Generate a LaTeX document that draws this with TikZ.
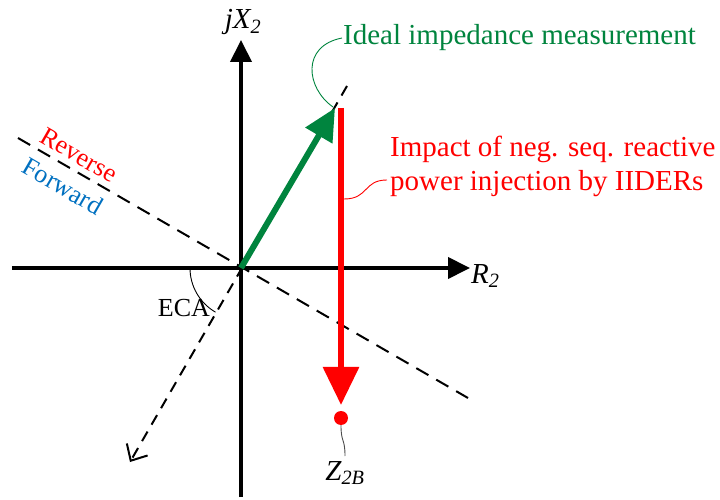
\documentclass[tikz,border=0pt]{standalone}
\usepackage{fontspec}
\setmainfont{Liberation Serif}
\usetikzlibrary{arrows.meta, positioning, calc}

\definecolor{imgreen}{RGB}{0,132,62}
\definecolor{fwblue}{RGB}{0,112,192}

\tikzset{
  axis/.style={line width=4pt, -{Triangle[length=22pt,width=21pt]}},
  dashline/.style={line width=2pt, dash pattern=on 14pt off 9pt},
  leader/.style={line width=0.9pt},
  lbl/.style={font=\fontsize{29}{34}\selectfont, inner sep=1pt},
  smalllbl/.style={font=\fontsize{26}{30}\selectfont, inner sep=1pt}
}

\begin{document}
\begin{tikzpicture}[x=1pt, y=1pt]
        \useasboundingbox (-241,-232) rectangle (479,268);

        \coordinate (O) at (0,0);

        % axes
        \coordinate (Rleft) at (-229,0);
        \coordinate (Rtip) at (229,0);
        \coordinate (Xbot) at (0,-229);
        \coordinate (Xtip) at (0,228);
        \draw[axis] (Rleft) -- (Rtip);
        \draw[axis] (Xbot) -- (Xtip);
        \node[lbl, anchor=west] (R2) at ($(Rtip)+(0,-8)$) {\itshape R\textsubscript{2}};
        \node[lbl] (jX2) at (2,246) {\itshape jX\textsubscript{2}};

        % directional boundary
        \coordinate (Dup) at (-223,130);
        \coordinate (Ddown) at (227,-130);
        \draw[dashline] (Dup) -- (Ddown);
        \node[smalllbl, text=red, rotate=-30] (rev) at (-162,113) {Reverse};
        \node[smalllbl, text=fwblue, rotate=-30] (fwd) at (-178,82) {Forward};

        % characteristic angle line
        \coordinate (Mup) at (106,182);
        \coordinate (Mtip) at (-111,-194);
        \draw[line width=2pt, dash pattern=on 11pt off 8pt, -{Straight Barb[length=13pt,width=24pt]}] (Mup) -- (Mtip);

        % ECA
        \draw[leader] (-51,0) arc (180:240:51);
        \node[smalllbl] (ECA) at (-57,-40) {ECA};

        % ideal measurement
        \coordinate (Zid) at (94,160);
        \draw[imgreen, line width=6pt, -{Triangle[length=32pt,width=30pt]}] (O) -- (Zid);
        \node[lbl, text=imgreen, anchor=west] (ideal) at (101,230) {Ideal impedance measurement};
        \draw[leader, imgreen] (92,161) .. controls (65,180) and (60,222) .. (ideal.west);

        % shift by IIDERs
        \coordinate (Rtop) at (100,160);
        \coordinate (Rend) at (100,-137);
        \draw[red, line width=6pt, -{Triangle[length=38pt,width=35pt]}] (Rtop) -- (Rend);
        \node[circle, fill=red, minimum size=14pt, inner sep=0pt] (Z2Bdot) at (100,-150) {};
        \node[lbl, text=red, anchor=west, align=left] (impact) at (148,102)
          {Impact of neg. seq. reactive\\power injection by IIDERs};
        \draw[leader, red] (103,69) .. controls (128,69) and (122,88) .. (146,88);

        % Z2B
        \node[lbl] (Z2B) at (104,-205) {\itshape Z\textsubscript{2B}};
        \draw[leader, black!70] (Z2Bdot.south) .. controls (100,-175) and (104,-170) .. (104,-188);

    \end{tikzpicture}
\end{document}
